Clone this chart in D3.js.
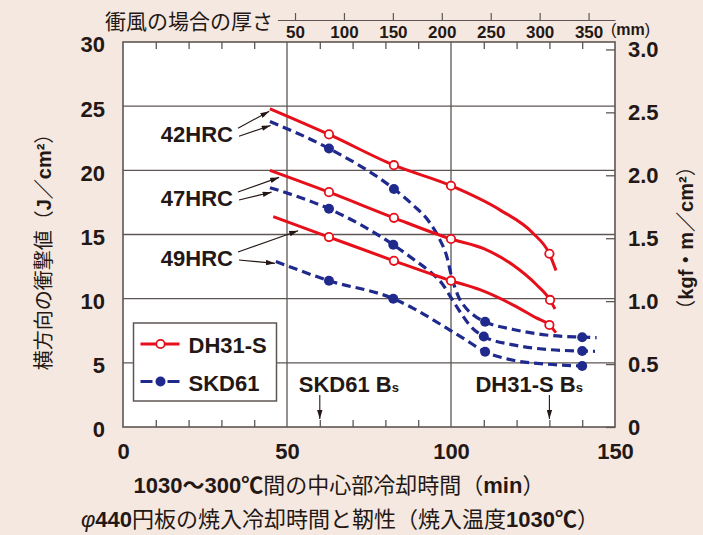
<!DOCTYPE html>
<html>
<head>
<meta charset="utf-8">
<script src="https://cdn.jsdelivr.net/npm/d3@7"></script>
<style>
  html, body { margin: 0; padding: 0; background: #f5e8e0; }
  svg { display: block; }
</style>
</head>
<body>
<svg id="chart" width="703" height="535"></svg>
<script>
// 冷却時間 t (min) と衝撃値 v (J/cm2)
const hardness = ["42HRC", "47HRC", "49HRC"];
const seriesNames = ["DH31-S", "SKD61"];

const dh31Lines = [
  [[44.8, 24.8], [62.8, 22.8], [82.6, 20.4], [100, 18.8], [115, 16.9], [125, 15.1], [130, 13.5], [132, 12.2]],
  [[44.8, 20.0], [62.8, 18.3], [82.6, 16.3], [100, 14.65], [110, 13.9], [119, 12.6], [126, 11.1], [130.2, 9.9], [131.7, 9.2]],
  [[45.8, 16.4], [62.8, 14.8], [82.6, 12.95], [100, 11.4], [108.8, 10.7], [119, 9.5], [126, 8.5], [130, 7.95], [132, 7.35]]
];
const dh31Points = [
  [[62.8, 22.8], [82.6, 20.4], [100, 18.8], [130, 13.5]],
  [[62.8, 18.3], [82.6, 16.3], [100, 14.65], [130.2, 9.9]],
  [[62.8, 14.8], [82.6, 12.95], [100, 11.4], [130, 7.95]]
];

const skd61Lines = [
  [[44.8, 23.8], [62.8, 21.7], [82.6, 18.55], [88.4, 17.3], [93.6, 15.9], [96.6, 14.6], [98.7, 13.3], [100.2, 11.7],
   [102.2, 10.2], [104.8, 9.2], [107.5, 8.6], [110.4, 8.2], [119, 7.6], [129, 7.17], [140, 7.0], [144.4, 6.96]],
  [[44.8, 18.65], [62.8, 17.0], [82.4, 14.2], [88.4, 13.1], [93.6, 12.1], [97.2, 11.2], [100.2, 10.0], [102.7, 9.0],
   [105.8, 7.9], [110, 7.05], [119, 6.4], [129, 6.05], [140, 5.92], [143.9, 5.9]],
  [[46.6, 12.9], [62.8, 11.4], [82.4, 10.0], [88.5, 9.25], [93.6, 8.5], [98.7, 7.7], [103.8, 6.9], [110.4, 5.87],
   [119, 5.2], [129, 4.9], [140, 4.75], [142.4, 4.72]]
];
const skd61Points = [
  [[62.8, 21.7], [82.6, 18.55], [110.4, 8.2], [140, 7.0]],
  [[62.8, 17.0], [82.4, 14.2], [110, 7.05], [140, 5.92]],
  [[62.8, 11.4], [82.4, 10.0], [110.4, 5.87], [140, 4.75]]
];

// 硬さラベルの矢印の先 (t, v)
const arrowRed = [[44.6, 24.6], [47.6, 19.45], [53.4, 15.3]];
const arrowBlue = [[45.0, 23.5], [45.3, 18.3], [46.3, 12.75]];

// Bs 点
const bsTimes = [60, 130];
const bsNames = ["SKD61 B", "DH31-S B"];

const xTicks = [0, 50, 100, 150];
const xMinor = [10, 20, 30, 40, 60, 70, 80, 90, 110, 120, 130, 140];
const yTicks = [0, 5, 10, 15, 20, 25, 30];
const kgfTicks = [0, 0.5, 1.0, 1.5, 2.0, 2.5, 3.0];
const mmTicks = [50, 100, 150, 200, 250, 300, 350];

const FONT = "'Liberation Sans', 'Noto Sans CJK JP', sans-serif";
const INK = "#231815";
const GRID = "#5e5654";
const RED = "#e60f1a";
const BLUE = "#1f2a8c";

const svg = d3.select("#chart")
  .style("font-family", FONT)
  .style("fill", INK);

svg.append("rect").attr("width", 703).attr("height", 535).attr("fill", "#f5e8e0");

const pLeft = 123, pRight = 615, pTop = 42, pBottom = 427;
const x = d3.scaleLinear().domain([0, 150]).range([pLeft, pRight]);
const y = d3.scaleLinear().domain([0, 30]).range([pBottom, pTop]);
const yKgf = d3.scaleLinear().domain([0, 30 / 9.807]).range([pBottom, pTop]);
const mm = d3.scaleLinear().domain([32, 377]).range([277.4, 615]);

const defs = svg.append("defs");
defs.append("marker")
  .attr("id", "ah")
  .attr("viewBox", "0 0 10 6")
  .attr("refX", 10).attr("refY", 3)
  .attr("markerWidth", 9).attr("markerHeight", 5.4)
  .attr("markerUnits", "userSpaceOnUse")
  .attr("orient", "auto")
  .append("path").attr("d", "M0,0L10,3L0,6Z").attr("fill", INK);

// プロット領域
svg.append("rect")
  .attr("x", pLeft).attr("y", pTop)
  .attr("width", pRight - pLeft).attr("height", pBottom - pTop)
  .attr("fill", "#ffffff");

// グリッド
svg.append("g").selectAll("line")
  .data(yTicks.filter(d => d > 0 && d < 30))
  .join("line")
  .attr("x1", pLeft).attr("x2", pRight)
  .attr("y1", d => y(d)).attr("y2", d => y(d))
  .attr("stroke", GRID).attr("stroke-width", 1.3);

svg.append("g").selectAll("line")
  .data([50, 100])
  .join("line")
  .attr("x1", d => x(d)).attr("x2", d => x(d))
  .attr("y1", pTop).attr("y2", pBottom)
  .attr("stroke", GRID).attr("stroke-width", 1.3);

// 内向きの目盛り
function styleTicks(g) {
  g.select(".domain").remove();
  g.selectAll(".tick line").attr("stroke", GRID).attr("stroke-width", 1.3);
}
svg.append("g").attr("transform", `translate(0,${pBottom})`)
  .call(d3.axisBottom(x).tickValues(xMinor).tickSize(-7).tickFormat(""))
  .call(styleTicks);
svg.append("g").attr("transform", `translate(0,${pTop})`)
  .call(d3.axisTop(x).tickValues(xMinor).tickSize(-7).tickFormat(""))
  .call(styleTicks);

// 軸ラベル
function styleLabels(g, size) {
  g.select(".domain").remove();
  g.attr("font-family", FONT).attr("font-size", size).attr("font-weight", "bold");
  g.selectAll("text").attr("fill", INK);
}
svg.append("g").attr("transform", `translate(0,${pBottom})`)
  .call(d3.axisBottom(x).tickValues(xTicks).tickSize(0).tickPadding(16))
  .call(g => styleLabels(g, 22));

svg.append("g").attr("transform", `translate(${pLeft},0)`)
  .call(d3.axisLeft(y).tickValues(yTicks).tickSize(0).tickPadding(18))
  .call(g => styleLabels(g, 22))
  .call(g => g.selectAll("text").attr("dy", "0.45em"));

svg.append("g").attr("transform", `translate(${pRight},0)`)
  .call(d3.axisRight(yKgf).tickValues(kgfTicks).tickSize(-9).tickPadding(13)
    .tickFormat(d => d === 0 ? "0" : d3.format(".1f")(d)))
  .call(g => styleLabels(g, 22))
  .call(g => g.selectAll(".tick line").attr("stroke", GRID).attr("stroke-width", 1.3))
  .call(g => g.selectAll("text").attr("dy", "0.34em"));

// 上側の厚さ軸
svg.append("g").attr("transform", "translate(0,20)")
  .call(d3.axisTop(mm).tickValues(mmTicks).tickSize(7).tickSizeOuter(0).tickFormat(""))
  .call(g => g.selectAll("path, line").attr("stroke", GRID).attr("stroke-width", 1.2));
svg.append("g").attr("transform", "translate(0,20)")
  .call(d3.axisBottom(mm).tickValues(mmTicks).tickSize(0).tickPadding(6))
  .call(g => styleLabels(g, 17));

svg.append("text")
  .attr("x", 273).attr("y", 29)
  .attr("text-anchor", "end")
  .attr("font-size", 21)
  .text("衝風の場合の厚さ");

svg.append("text")
  .attr("x", 611).attr("y", 35)
  .attr("font-size", 16)
  .call(t => t.append("tspan").text("("))
  .call(t => t.append("tspan").attr("font-weight", "bold").text("mm"))
  .call(t => t.append("tspan").text(")"));

// 縦軸タイトル
svg.append("text")
  .attr("transform", "translate(44,247) rotate(-90)")
  .attr("text-anchor", "middle")
  .attr("dominant-baseline", "central")
  .attr("font-size", 20)
  .call(t => t.append("tspan").text("横方向の衝撃値（"))
  .call(t => t.append("tspan").attr("font-weight", "bold").text("J／cm²"))
  .call(t => t.append("tspan").text("）"));

svg.append("text")
  .attr("transform", "translate(686,238) rotate(-90)")
  .attr("text-anchor", "middle")
  .attr("dominant-baseline", "central")
  .attr("font-size", 20)
  .call(t => t.append("tspan").text("（"))
  .call(t => t.append("tspan").attr("font-weight", "bold").text("kgf・m／cm²"))
  .call(t => t.append("tspan").text("）"));

// 横軸タイトルと図題
svg.append("text")
  .attr("x", 339).attr("y", 493)
  .attr("text-anchor", "middle")
  .attr("font-size", 22)
  .call(t => t.append("tspan").attr("font-weight", "bold").text("1030～300℃"))
  .call(t => t.append("tspan").text("間の中心部冷却時間（"))
  .call(t => t.append("tspan").attr("font-weight", "bold").text("min"))
  .call(t => t.append("tspan").text("）"));

svg.append("text")
  .attr("x", 340).attr("y", 527)
  .attr("text-anchor", "middle")
  .attr("font-size", 22)
  .call(t => t.append("tspan").attr("font-style", "italic").text("φ"))
  .call(t => t.append("tspan").attr("font-weight", "bold").text("440"))
  .call(t => t.append("tspan").text("円板の焼入冷却時間と靭性（焼入温度"))
  .call(t => t.append("tspan").attr("font-weight", "bold").text("1030℃"))
  .call(t => t.append("tspan").text("）"));

// 曲線
const line = d3.line()
  .x(d => x(d[0]))
  .y(d => y(d[1]))
  .curve(d3.curveMonotoneX);

svg.append("g").selectAll("path")
  .data(skd61Lines)
  .join("path")
  .attr("d", line)
  .attr("fill", "none")
  .attr("stroke", BLUE)
  .attr("stroke-width", 3.2)
  .attr("stroke-dasharray", "9 5");

svg.append("g").selectAll("path")
  .data(dh31Lines)
  .join("path")
  .attr("d", line)
  .attr("fill", "none")
  .attr("stroke", RED)
  .attr("stroke-width", 3);

svg.append("g").selectAll("circle")
  .data(skd61Points.flat())
  .join("circle")
  .attr("cx", d => x(d[0])).attr("cy", d => y(d[1]))
  .attr("r", 5)
  .attr("fill", BLUE);

svg.append("g").selectAll("circle")
  .data(dh31Points.flat())
  .join("circle")
  .attr("cx", d => x(d[0])).attr("cy", d => y(d[1]))
  .attr("r", 4.2)
  .attr("fill", "#ffffff")
  .attr("stroke", RED)
  .attr("stroke-width", 1.8);

// 硬さラベル
const labelEnd = 233;
hardness.forEach((h, i) => {
  const base = y((dh31Lines[i][0][1] + skd61Lines[i][0][1]) / 2) + 27;
  svg.append("text")
    .attr("x", labelEnd).attr("y", base)
    .attr("text-anchor", "end")
    .attr("font-size", 22).attr("font-weight", "bold")
    .text(h);
  svg.append("line")
    .attr("x1", labelEnd + 5).attr("y1", base - 14)
    .attr("x2", x(arrowRed[i][0])).attr("y2", y(arrowRed[i][1]))
    .attr("stroke", INK).attr("stroke-width", 1.1)
    .attr("marker-end", "url(#ah)");
  svg.append("line")
    .attr("x1", labelEnd + 6).attr("y1", base - 6)
    .attr("x2", x(arrowBlue[i][0])).attr("y2", y(arrowBlue[i][1]))
    .attr("stroke", INK).attr("stroke-width", 1.1)
    .attr("marker-end", "url(#ah)");
});

// Bs 表示
const bsOffset = [21, 74];
bsTimes.forEach((t, i) => {
  svg.append("text")
    .attr("x", x(t) - bsOffset[i]).attr("y", 392)
    .attr("font-size", 22).attr("font-weight", "bold")
    .call(s => s.append("tspan").text(bsNames[i]))
    .call(s => s.append("tspan").attr("font-size", 13).text("s"));
  svg.append("line")
    .attr("x1", x(t)).attr("x2", x(t))
    .attr("y1", 395).attr("y2", 419)
    .attr("stroke", INK).attr("stroke-width", 1.1)
    .attr("marker-end", "url(#ah)");
});

// 凡例
const legend = svg.append("g").attr("transform", "translate(133.5,323)");
legend.append("rect")
  .attr("width", 143).attr("height", 78)
  .attr("fill", "#ffffff")
  .attr("stroke", GRID).attr("stroke-width", 1.5);

const lg0 = legend.append("g").attr("transform", "translate(0,21)");
lg0.append("line").attr("x1", 7).attr("x2", 46).attr("stroke", RED).attr("stroke-width", 3);
lg0.append("circle").attr("cx", 27).attr("r", 4.2)
  .attr("fill", "#ffffff").attr("stroke", RED).attr("stroke-width", 1.8);
lg0.append("text").attr("x", 55).attr("y", 9)
  .attr("font-size", 22).attr("font-weight", "bold").text(seriesNames[0]);

const lg1 = legend.append("g").attr("transform", "translate(0,58.5)");
lg1.append("line").attr("x1", 7).attr("x2", 46).attr("stroke", BLUE).attr("stroke-width", 3.2)
  .attr("stroke-dasharray", "12 15 12");
lg1.append("circle").attr("cx", 27).attr("r", 5).attr("fill", BLUE);
lg1.append("text").attr("x", 55).attr("y", 9)
  .attr("font-size", 22).attr("font-weight", "bold").text(seriesNames[1]);

// 枠
svg.append("rect")
  .attr("x", pLeft).attr("y", pTop)
  .attr("width", pRight - pLeft).attr("height", pBottom - pTop)
  .attr("fill", "none")
  .attr("stroke", GRID).attr("stroke-width", 1.6);
</script>
</body>
</html>
